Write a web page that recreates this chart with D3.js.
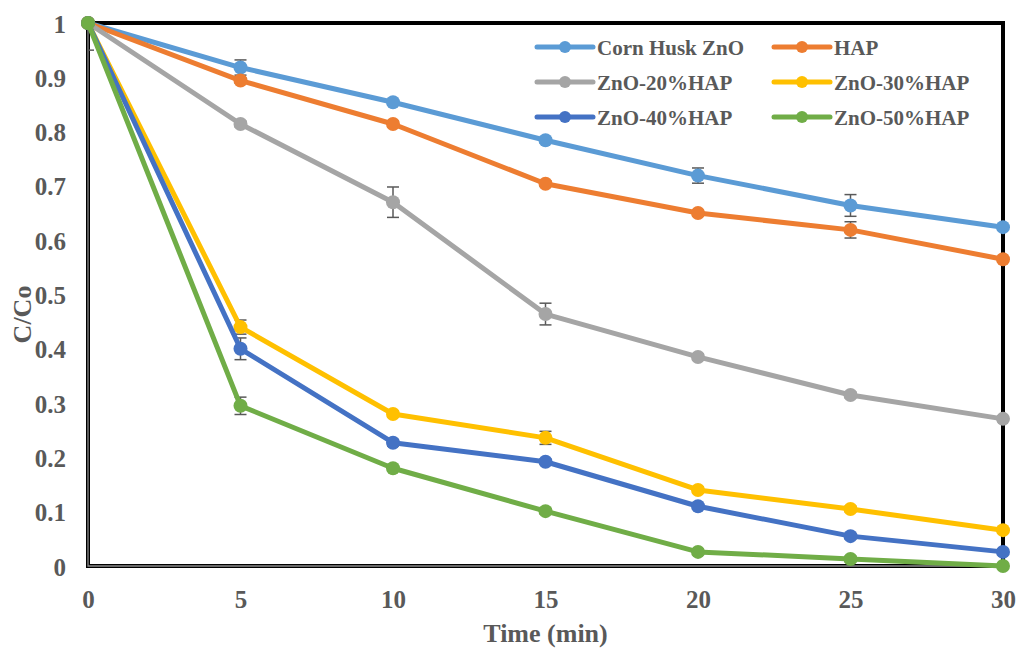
<!DOCTYPE html>
<html>
<head>
<meta charset="utf-8">
<script src="https://cdn.jsdelivr.net/npm/d3@7"></script>
<style>
html,body{margin:0;padding:0;background:#fff;}
svg text{font-family:"Liberation Serif","Times New Roman",serif;font-weight:bold;fill:#595959;}
</style>
</head>
<body>
<svg id="chart" width="1021" height="648"></svg>
<script>
const times = [0, 5, 10, 15, 20, 25, 30];
const seriesNames = ["Corn Husk ZnO", "HAP", "ZnO-20%HAP", "ZnO-30%HAP", "ZnO-40%HAP", "ZnO-50%HAP"];
const seriesColors = ["#5B9BD5", "#ED7D31", "#A5A5A5", "#FFC000", "#4472C4", "#70AD47"];
const cornHusk = [1, 0.918, 0.854, 0.784, 0.719, 0.664, 0.624];
const hap = [1, 0.894, 0.814, 0.704, 0.650, 0.619, 0.565];
const zno20 = [1, 0.814, 0.670, 0.464, 0.385, 0.315, 0.271];
const zno30 = [1, 0.440, 0.280, 0.236, 0.140, 0.105, 0.066];
const zno40 = [1, 0.400, 0.227, 0.192, 0.110, 0.055, 0.026];
const zno50 = [1, 0.295, 0.180, 0.101, 0.026, 0.013, 0.000];
const errCornHusk = [0, 0.014, 0.005, 0.005, 0.014, 0.02, 0.005];
const errHap = [0, 0.005, 0.005, 0.005, 0.005, 0.015, 0.005];
const errZno20 = [0, 0.005, 0.028, 0.02, 0.005, 0.005, 0.005];
const errZno30 = [0, 0.013, 0.005, 0.012, 0.005, 0.005, 0.005];
const errZno40 = [0, 0.02, 0.006, 0.005, 0.005, 0.005, 0.005];
const errZno50 = [0.05, 0.016, 0.005, 0.005, 0.005, 0.005, 0.005];
const xTicks = [0, 5, 10, 15, 20, 25, 30];
const yTicks = [0, 0.1, 0.2, 0.3, 0.4, 0.5, 0.6, 0.7, 0.8, 0.9, 1];

const allValues = [cornHusk, hap, zno20, zno30, zno40, zno50];
const allErrors = [errCornHusk, errHap, errZno20, errZno30, errZno40, errZno50];

const svg = d3.select("#chart");
const L = 88, R = 1003, T = 23, B = 566;
const x = d3.scaleLinear().domain([0, 30]).range([L, R]);
const y = d3.scaleLinear().domain([0, 1]).range([B, T]);

svg.append("defs").append("clipPath").attr("id", "clip")
  .append("rect").attr("x", L).attr("y", T).attr("width", R - L).attr("height", B - T);

// Axes tick labels
const yAxis = d3.axisLeft(y).tickValues(yTicks).tickSize(0).tickPadding(22).tickFormat(d => d3.format("~g")(d));
const yg = svg.append("g").attr("transform", `translate(${L},0)`).call(yAxis);
yg.select(".domain").remove();
yg.selectAll("text").attr("font-size", 25).attr("dy", "0.36em").style("font-family", null).attr("font-family", null);

const xAxis = d3.axisBottom(x).tickValues(xTicks).tickSize(0).tickPadding(24).tickFormat(d3.format("d"));
const xg = svg.append("g").attr("transform", `translate(0,${B})`).call(xAxis);
xg.select(".domain").remove();
xg.selectAll("text").attr("font-size", 25).attr("font-family", null);

// Frame
svg.append("rect").attr("x", L).attr("y", T).attr("width", R - L).attr("height", B - T)
  .attr("fill", "none").attr("stroke", "#000").attr("stroke-width", 4);
svg.append("path").attr("d", `M${L},${T + 2}V${B}H${R - 2}`)
  .attr("fill", "none").attr("stroke", "#8c8c8c").attr("stroke-width", 1.3);

const plot = svg.append("g").attr("clip-path", "url(#clip)");
const line = d3.line().x((d, i) => x(times[i])).y(d => y(d));

allValues.forEach((vals, s) => {
  const g = svg.append("g");
  // error bars
  const eg = g.append("g").attr("clip-path", "url(#clip)");
  vals.forEach((v, i) => {
    const e = allErrors[s][i];
    if (e <= 0) return;
    const cx = x(times[i]);
    eg.append("line").attr("x1", cx).attr("x2", cx).attr("y1", y(v + e)).attr("y2", y(v - e))
      .attr("stroke", "#595959").attr("stroke-width", 1.5);
    [v + e, v - e].forEach(w => {
      eg.append("line").attr("x1", cx - 6).attr("x2", cx + 6).attr("y1", y(w)).attr("y2", y(w))
        .attr("stroke", "#595959").attr("stroke-width", 1.5);
    });
  });
  g.append("path").datum(vals).attr("d", line).attr("fill", "none")
    .attr("stroke", seriesColors[s]).attr("stroke-width", 5).attr("stroke-linejoin", "round");
  g.selectAll("circle").data(vals).enter().append("circle")
    .attr("cx", (d, i) => x(times[i])).attr("cy", d => y(d)).attr("r", 7)
    .attr("fill", seriesColors[s]);
});

// Legend
const legX = [537, 774];
const legY = [47, 82, 117];
seriesNames.forEach((name, s) => {
  const col = s % 2, row = Math.floor(s / 2);
  const lx = legX[col], ly = legY[row];
  const g = svg.append("g");
  g.append("line").attr("x1", lx).attr("x2", lx + 56).attr("y1", ly).attr("y2", ly)
    .attr("stroke", seriesColors[s]).attr("stroke-width", 5).attr("stroke-linecap", "round");
  g.append("circle").attr("cx", lx + 28).attr("cy", ly).attr("r", 6).attr("fill", seriesColors[s]);
  g.append("text").attr("x", lx + 60).attr("y", ly + 8).attr("font-size", 21).text(name);
});

// Axis titles
svg.append("text").attr("x", (L + R) / 2).attr("y", 642).attr("text-anchor", "middle")
  .attr("font-size", 26).text("Time (min)");
svg.append("text").attr("transform", `translate(31,${(T + B) / 2 + 20}) rotate(-90)`)
  .attr("text-anchor", "middle").attr("font-size", 26).text("C/Co");
</script>
</body>
</html>
